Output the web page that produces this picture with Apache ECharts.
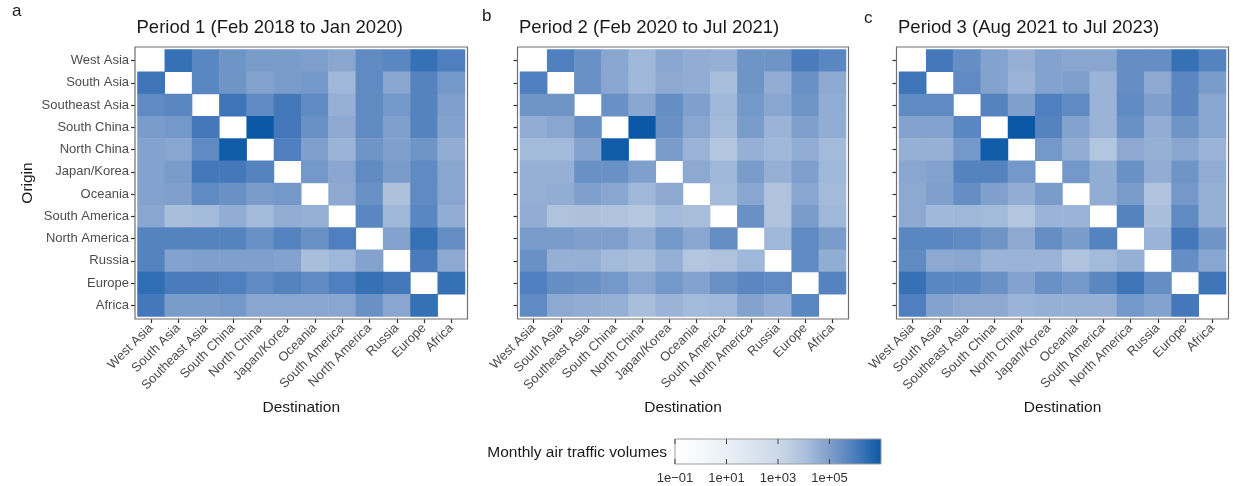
<!DOCTYPE html>
<html>
<head>
<meta charset="utf-8">
<script src="https://cdn.jsdelivr.net/npm/echarts@6/dist/echarts.min.js"></script>
<style>
  html, body { margin: 0; padding: 0; background: #fff; }
  #chart { width: 1233px; height: 486px; }
</style>
</head>
<body>
<div id="chart"></div>
<script>
// Regions used for both origin (rows) and destination (columns)
const regions = ['West Asia', 'South Asia', 'Southeast Asia', 'South China', 'North China', 'Japan/Korea',
                 'Oceania', 'South America', 'North America', 'Russia', 'Europe', 'Africa'];

const panelLetters = ['a', 'b', 'c'];
const periodTitles = ['Period 1 (Feb 2018 to Jan 2020)', 'Period 2 (Feb 2020 to Jul 2021)', 'Period 3 (Aug 2021 to Jul 2023)'];

// log10 of monthly air traffic volume; rows = origin, columns = destination; null on the diagonal
const period1 = [
  [null, 6.3, 5.7, 5.3, 5.1, 5.1, 5.0, 4.8, 5.6, 5.7, 6.3, 5.9],
  [6.2, null, 5.7, 5.3, 4.9, 5.1, 5.2, 4.3, 5.6, 4.8, 5.8, 5.2],
  [5.6, 5.7, null, 6.2, 5.6, 6.1, 5.6, 4.5, 5.6, 5.2, 5.8, 5.0],
  [5.1, 5.2, 6.1, null, 7.0, 6.1, 5.4, 4.7, 5.6, 5.0, 5.8, 4.9],
  [4.9, 4.8, 5.6, 6.9, null, 5.9, 5.0, 4.4, 5.3, 5.0, 5.3, 4.6],
  [4.9, 5.1, 6.1, 6.1, 5.8, null, 5.2, 4.8, 5.6, 5.1, 5.6, 4.8],
  [4.9, 5.0, 5.6, 5.4, 5.1, 5.2, null, 4.7, 5.4, 4.0, 5.6, 4.8],
  [4.8, 4.1, 4.2, 4.6, 4.2, 4.6, 4.5, null, 5.7, 4.3, 5.7, 4.6],
  [5.8, 5.8, 5.8, 5.8, 5.4, 5.8, 5.4, 5.9, null, 4.9, 6.3, 5.5],
  [5.8, 4.9, 5.0, 5.0, 5.0, 4.9, 4.1, 4.3, 4.9, null, 6.0, 4.7],
  [6.4, 6.0, 6.0, 5.9, 5.6, 5.8, 5.6, 5.9, 6.3, 6.1, null, 6.3],
  [6.1, 5.1, 5.1, 5.2, 4.8, 4.8, 4.8, 4.8, 5.4, 4.8, 6.3, null]
];

const period2 = [
  [null, 5.9, 5.4, 4.8, 4.3, 4.8, 4.6, 4.5, 5.3, 5.3, 6.0, 5.7],
  [5.9, null, 5.4, 4.8, 4.3, 4.7, 4.6, 4.1, 5.3, 4.6, 5.4, 4.7],
  [5.3, 5.3, null, 5.4, 4.8, 5.5, 5.0, 4.3, 5.2, 4.8, 5.3, 4.6],
  [4.6, 4.8, 5.4, null, 7.0, 5.4, 4.8, 4.2, 5.1, 4.4, 5.0, 4.6],
  [4.2, 4.2, 4.9, 6.9, null, 5.1, 4.4, 3.8, 4.5, 4.3, 4.6, 4.2],
  [4.5, 4.5, 5.4, 5.4, 5.0, null, 4.7, 4.3, 5.1, 4.5, 5.0, 4.3],
  [4.5, 4.6, 5.0, 4.8, 4.3, 4.7, null, 4.2, 4.8, 3.9, 4.8, 4.2],
  [4.6, 3.9, 4.0, 3.9, 3.7, 4.2, 4.1, null, 5.4, 3.9, 5.1, 4.3],
  [5.1, 5.1, 5.0, 5.0, 4.6, 5.2, 4.8, 5.5, null, 4.3, 5.6, 5.1],
  [5.4, 4.5, 4.5, 4.2, 4.1, 4.5, 3.8, 3.9, 4.3, null, 5.6, 4.6],
  [5.9, 5.5, 5.4, 5.2, 4.8, 5.2, 4.9, 5.4, 5.7, 5.6, null, 5.8],
  [5.6, 4.7, 4.6, 4.5, 4.1, 4.4, 4.2, 4.3, 4.9, 4.6, 5.7, null]
];

const period3 = [
  [null, 6.1, 5.5, 4.9, 4.5, 4.9, 4.8, 4.8, 5.5, 5.5, 6.3, 5.8],
  [6.2, null, 5.6, 4.9, 4.4, 4.9, 5.0, 4.4, 5.5, 4.7, 5.7, 5.1],
  [5.6, 5.6, null, 5.8, 5.0, 5.9, 5.6, 4.4, 5.6, 5.0, 5.7, 4.8],
  [4.9, 4.9, 5.7, null, 7.0, 5.8, 4.9, 4.4, 5.4, 4.6, 5.3, 4.8],
  [4.5, 4.5, 5.2, 6.9, null, 5.2, 4.6, 3.8, 4.7, 4.5, 4.8, 4.4],
  [4.8, 4.9, 5.8, 5.8, 5.2, null, 5.2, 4.6, 5.4, 4.6, 5.3, 4.6],
  [4.7, 5.0, 5.5, 5.0, 4.6, 5.1, null, 4.6, 5.1, 3.9, 5.2, 4.5],
  [4.7, 4.3, 4.3, 4.2, 3.8, 4.4, 4.4, null, 5.8, 4.1, 5.6, 4.5],
  [5.7, 5.7, 5.6, 5.3, 4.7, 5.5, 5.1, 5.8, null, 4.4, 6.1, 5.3],
  [5.6, 4.7, 4.8, 4.4, 4.4, 4.4, 3.9, 4.2, 4.5, null, 5.5, 4.8],
  [6.3, 5.7, 5.7, 5.4, 4.9, 5.4, 5.2, 5.7, 6.2, 5.5, null, 6.2],
  [5.9, 4.9, 4.7, 4.7, 4.4, 4.5, 4.5, 4.5, 5.2, 4.9, 6.1, null]
];

const periods = [period1, period2, period3];

// Colour scale (log10 volume) and legend ticks
const scaleMin = -1;
const scaleMax = 7;
const scaleColors = ['#ffffff', '#f5f8fb', '#eaf0f7', '#dbe5f0', '#cbd8e8', '#adc1dd', '#7f9fcc', '#4a7cbc', '#0a58a6'];
const legendTickValues = [-1, 1, 3, 5];
const legendTickLabels = ['1e\u221201', '1e+01', '1e+03', '1e+05'];

const FONT = '"Liberation Sans", Arial, Helvetica, sans-serif';

// Panel geometry
const panels = [
  { left: 137.5, top: 49.5, width: 327.5, height: 267 },
  { left: 520, top: 49.5, width: 326, height: 267 },
  { left: 899, top: 49.5, width: 327, height: 267 }
];
const frameGap = 2.5;

const grids = [], xAxes = [], yAxes = [], series = [], titles = [], graphics = [];

panels.forEach((p, k) => {
  grids.push({ left: p.left, top: p.top, width: p.width, height: p.height, containLabel: false });

  xAxes.push({
    type: 'category', gridIndex: k, data: regions, position: 'bottom', offset: frameGap,
    axisLine: { show: false },
    axisTick: { show: true, length: 4, alignWithLabel: true, lineStyle: { color: '#333', width: 1.2 } },
    axisLabel: { rotate: 45, margin: 7, fontSize: 13, color: '#4d4d4d', fontFamily: FONT, interval: 0 },
    splitLine: { show: false },
    name: 'Destination', nameLocation: 'middle', nameGap: 79,
    nameTextStyle: { fontSize: 15.5, color: '#1a1a1a', fontFamily: FONT }
  });

  yAxes.push({
    type: 'category', gridIndex: k, data: regions, inverse: true, offset: frameGap,
    axisLine: { show: false },
    axisTick: { show: true, length: 4, alignWithLabel: true, lineStyle: { color: '#333', width: 1.2 } },
    axisLabel: { show: k === 0, margin: 6, fontSize: 13, color: '#4d4d4d', fontFamily: FONT, interval: 0 },
    splitLine: { show: false },
    name: k === 0 ? 'Origin' : '', nameLocation: 'middle', nameGap: 99,
    nameTextStyle: { fontSize: 15.5, color: '#1a1a1a', fontFamily: FONT }
  });

  const data = [];
  periods[k].forEach((row, i) => {
    row.forEach((v, j) => {
      if (v !== null) data.push([j, i, v]);
    });
  });

  series.push({
    type: 'heatmap', xAxisIndex: k, yAxisIndex: k, data: data,
    itemStyle: { borderWidth: 0 },
    emphasis: { disabled: true },
    silent: true
  });

  titles.push({
    text: periodTitles[k], left: p.left - 1, top: 18, padding: 0,
    textStyle: { fontSize: 18.5, fontWeight: 'normal', color: '#1a1a1a', fontFamily: FONT }
  });

  // panel frame
  graphics.push({
    type: 'rect', silent: true, z: 100,
    shape: { x: p.left - frameGap, y: p.top - frameGap, width: p.width + 2 * frameGap, height: p.height + 2 * frameGap },
    style: { fill: null, stroke: '#6e6e6e', lineWidth: 1.2 }
  });
});

// panel letters
const letterPos = [[12, 3], [482, 8], [864, 10]];
panelLetters.forEach((t, k) => {
  titles.push({
    text: t, left: letterPos[k][0], top: letterPos[k][1], padding: 0,
    textStyle: { fontSize: 17, fontWeight: 'normal', color: '#1a1a1a', fontFamily: FONT }
  });
});

// Colour bar legend
const bar = { x: 675, y: 439, w: 206, h: 25 };
const gradStops = scaleColors.map((c, i) => ({ offset: i / (scaleColors.length - 1), color: c }));
graphics.push({
  type: 'rect', silent: true,
  shape: { x: bar.x, y: bar.y, width: bar.w, height: bar.h },
  style: {
    fill: new echarts.graphic.LinearGradient(0, 0, 1, 0, gradStops),
    stroke: '#9a9a9a', lineWidth: 1
  }
});
graphics.push({
  type: 'text', silent: true,
  style: { text: 'Monthly air traffic volumes', x: 667, y: 453, align: 'right', verticalAlign: 'middle',
           font: '15.5px ' + FONT, fill: '#1a1a1a' }
});
legendTickValues.forEach((v, i) => {
  const x = bar.x + (v - scaleMin) / (scaleMax - scaleMin) * bar.w;
  graphics.push({ type: 'line', silent: true, shape: { x1: x, y1: bar.y, x2: x, y2: bar.y + 5 }, style: { stroke: '#444', lineWidth: 1 } });
  graphics.push({ type: 'line', silent: true, shape: { x1: x, y1: bar.y + bar.h - 5, x2: x, y2: bar.y + bar.h }, style: { stroke: '#444', lineWidth: 1 } });
  graphics.push({
    type: 'text', silent: true,
    style: { text: legendTickLabels[i], x: x, y: 478, align: 'center', verticalAlign: 'middle',
             font: '13px ' + FONT, fill: '#333' }
  });
});

const chart = echarts.init(document.getElementById('chart'), null, { renderer: 'canvas' });
chart.setOption({
  backgroundColor: '#ffffff',
  animation: false,
  title: titles,
  grid: grids,
  xAxis: xAxes,
  yAxis: yAxes,
  visualMap: {
    type: 'continuous', show: false, min: scaleMin, max: scaleMax, seriesIndex: [0, 1, 2],
    inRange: { color: scaleColors }
  },
  series: series,
  graphic: graphics
});
</script>
</body>
</html>
